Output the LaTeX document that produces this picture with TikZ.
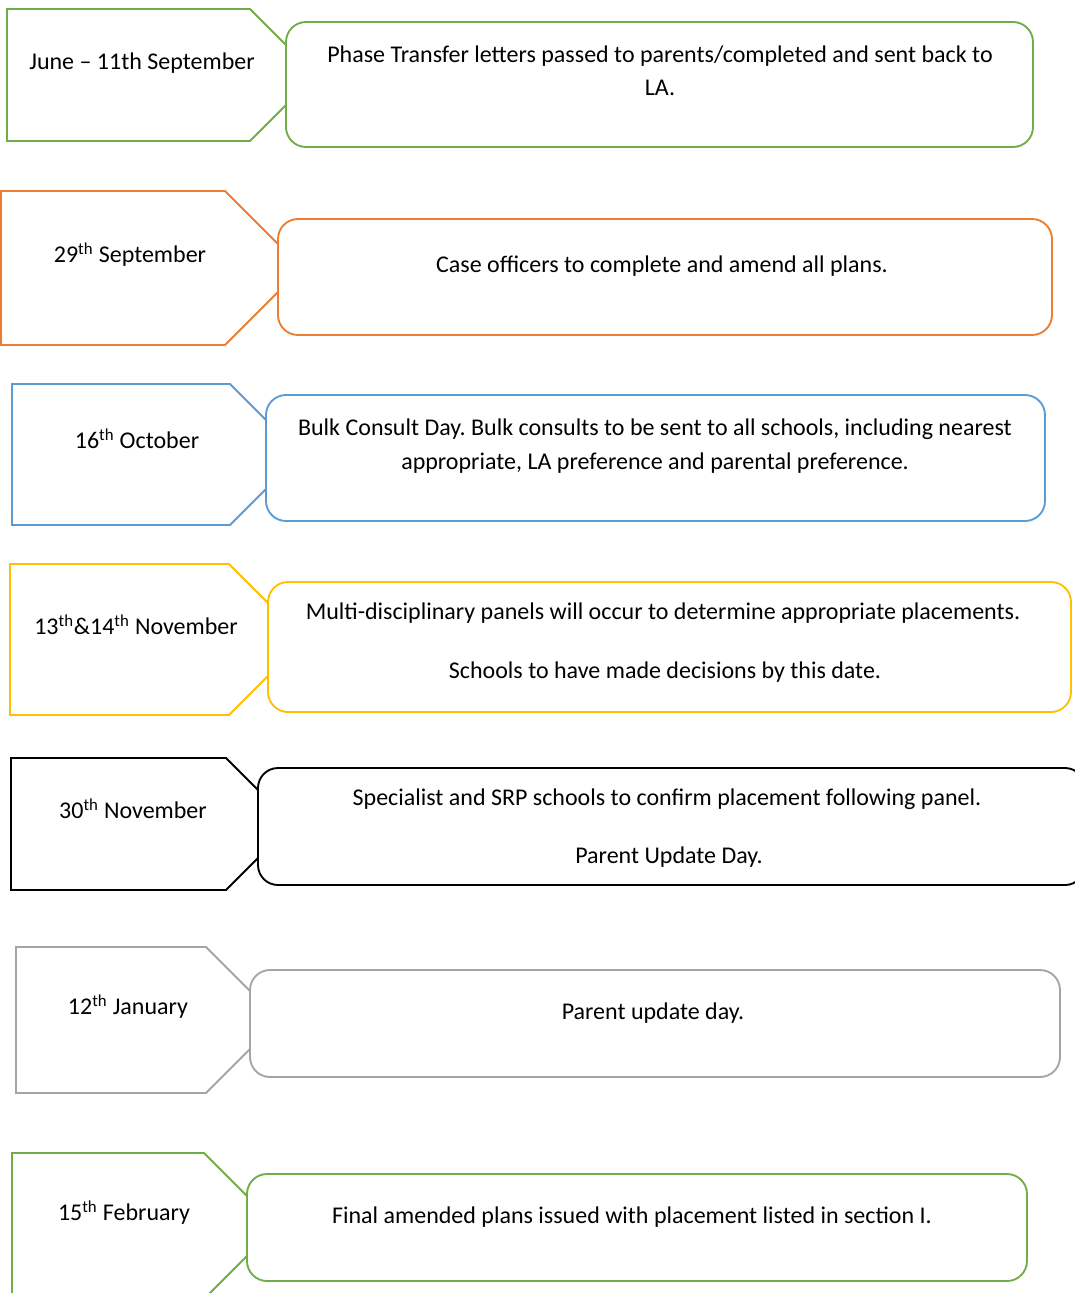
\documentclass[tikz,border=0pt]{standalone}
\usepackage{fontspec}
\setmainfont{Carlito}
\frenchspacing
\definecolor{cGreen}{HTML}{70AD47}
\definecolor{cOrange}{HTML}{ED7D31}
\definecolor{cBlue}{HTML}{5B9BD5}
\definecolor{cYellow}{HTML}{FFC000}
\definecolor{cGray}{HTML}{A5A5A5}
\tikzset{
  tag/.style={line width=1.4pt, fill=white, line join=miter},
  panel/.style={line width=1.4pt, fill=white, rounded corners=15pt},
  txt/.style={font=\fontsize{18}{22}\selectfont, inner sep=0pt, text height=11pt, text depth=3.5pt, yshift=-2pt}
}
\begin{document}
\begin{tikzpicture}[x=0.75pt,y=0.75pt,yscale=-1,xscale=1]
\useasboundingbox (0,0) rectangle (1075,1293);

%Shape: Tag [row 1]
\draw [tag, draw=cGreen] (7,9) -- (250,9) -- (316,75) -- (250,141) -- (7,141) -- cycle ;
%Shape: Rounded Rectangle [row 1]
\draw [panel, draw=cGreen] (286,22) rectangle (1033,147) ;
% Text Node
\node [txt] (d1) at (142,62) {June -- 11th September};
% Text Node
\node [txt] (t1a) at (660,55) {Phase Transfer letters passed to parents/completed and sent back to};
% Text Node
\node [txt] (t1b) at (660,88) {LA.};

%Shape: Tag [row 2]
\draw [tag, draw=cOrange] (1,191) -- (225,191) -- (302,268) -- (225,345) -- (1,345) -- cycle ;
%Shape: Rounded Rectangle [row 2]
\draw [panel, draw=cOrange] (278,219) rectangle (1052,335) ;
% Text Node
\node [txt] (d2) at (130,255) {29\textsuperscript{th} September};
% Text Node
\node [txt] (t2) at (662,265) {Case officers to complete and amend all plans.};

%Shape: Tag [row 3]
\draw [tag, draw=cBlue] (12,384) -- (230,384) -- (300.5,454.5) -- (230,525) -- (12,525) -- cycle ;
%Shape: Rounded Rectangle [row 3]
\draw [panel, draw=cBlue] (266,395) rectangle (1045,521) ;
% Text Node
\node [txt] (d3) at (137,441) {16\textsuperscript{th} October};
% Text Node
\node [txt] (t3a) at (655,428) {Bulk Consult Day. Bulk consults to be sent to all schools, including nearest};
% Text Node
\node [txt] (t3b) at (655,462) {appropriate, LA preference and parental preference.};

%Shape: Tag [row 4]
\draw [tag, draw=cYellow] (10,564) -- (229,564) -- (304.5,639.5) -- (229,715) -- (10,715) -- cycle ;
%Shape: Rounded Rectangle [row 4]
\draw [panel, draw=cYellow] (268,582) rectangle (1071,712) ;
% Text Node
\node [txt] (d4) at (136,627) {13\textsuperscript{th}\&14\textsuperscript{th} November};
% Text Node
\node [txt] (t4a) at (663,612) {Multi-disciplinary panels will occur to determine appropriate placements.};
% Text Node
\node [txt] (t4b) at (665,671) {Schools to have made decisions by this date.};

%Shape: Tag [row 5]
\draw [tag, draw=black] (11,758) -- (226,758) -- (292,824) -- (226,890) -- (11,890) -- cycle ;
%Shape: Rounded Rectangle [row 5]
\draw [panel, draw=black] (258,768) rectangle (1085,885) ;
% Text Node
\node [txt] (d5) at (133,811) {30\textsuperscript{th} November};
% Text Node
\node [txt] (t5a) at (667,798) {Specialist and SRP schools to confirm placement following panel.};
% Text Node
\node [txt] (t5b) at (669,856) {Parent Update Day.};

%Shape: Tag [row 6]
\draw [tag, draw=cGray] (16,947) -- (206,947) -- (279,1020) -- (206,1093) -- (16,1093) -- cycle ;
%Shape: Rounded Rectangle [row 6]
\draw [panel, draw=cGray] (250,970) rectangle (1060,1077) ;
% Text Node
\node [txt] (d6) at (128,1007) {12\textsuperscript{th} January};
% Text Node
\node [txt] (t6) at (653,1012) {Parent update day.};

%Shape: Tag [row 7]
\draw [tag, draw=cGreen] (12,1153) -- (204,1153) -- (277,1226) -- (204,1299) -- (12,1299) -- cycle ;
%Shape: Rounded Rectangle [row 7]
\draw [panel, draw=cGreen] (247,1174) rectangle (1027,1281) ;
% Text Node
\node [txt] (d7) at (124,1213) {15\textsuperscript{th} February};
% Text Node
\node [txt] (t7) at (632,1216) {Final amended plans issued with placement listed in section I.};
\end{tikzpicture}
\end{document}
